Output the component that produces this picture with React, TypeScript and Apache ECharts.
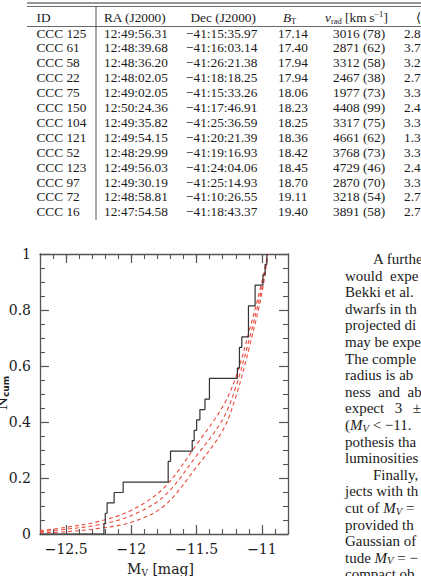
import React, { useEffect, useRef } from "react";
import * as echarts from "echarts";

// ---- Table of compact objects ----
const ids = ["CCC 125", "CCC 61", "CCC 58", "CCC 22", "CCC 75", "CCC 150", "CCC 104", "CCC 121", "CCC 52", "CCC 123", "CCC 97", "CCC 72", "CCC 16"];
const raJ2000 = ["12:49:56.31", "12:48:39.68", "12:48:36.20", "12:48:02.05", "12:49:02.05", "12:50:24.36", "12:49:35.82", "12:49:54.15", "12:48:29.99", "12:49:56.03", "12:49:30.19", "12:48:58.81", "12:47:54.58"];
const decJ2000 = ["\u221241:15:35.97", "\u221241:16:03.14", "\u221241:26:21.38", "\u221241:18:18.25", "\u221241:15:33.26", "\u221241:17:46.91", "\u221241:25:36.59", "\u221241:20:21.39", "\u221241:19:16.93", "\u221241:24:04.06", "\u221241:25:14.93", "\u221241:10:26.55", "\u221241:18:43.37"];
const bT = ["17.14", "17.40", "17.94", "17.94", "18.06", "18.23", "18.25", "18.36", "18.42", "18.45", "18.70", "19.11", "19.40"];
const vRad = ["3016 (78)", "2871 (62)", "3312 (58)", "2467 (38)", "1977 (73)", "4408 (99)", "3317 (75)", "4661 (62)", "3768 (73)", "4729 (46)", "2870 (70)", "3218 (54)", "3891 (58)"];
const lastCol = ["2.8", "3.7", "3.2", "2.7", "3.3", "2.4", "3.3", "1.3", "3.3", "2.4", "3.3", "2.7", "2.7"];

// ---- Cumulative luminosity distribution ----
// absolute magnitudes of the observed objects, brightest first
const objectMv = [
  -12.21, -12.2, -12.186, -12.132, -12.063,
  -11.718, -11.718, -11.7,
  -11.534, -11.519, -11.5, -11.475, -11.436, -11.402, -11.402,
  -11.188, -11.172, -11.172, -11.154,
  -11.103, -11.103, -11.103, -11.052, -11.052,
  -10.992, -10.975, -10.962,
];
// model curves (cumulative Gaussian tails)
const modelMv = [-12.7, -12.5, -12.25, -12.0, -11.75, -11.5, -11.3, -11.2, -11.1, -11.0, -10.955];
const modelHigh = [0.012, 0.024, 0.045, 0.085, 0.165, 0.32, 0.455, 0.56, 0.72, 0.9, 1.0];
const modelMid = [0.008, 0.017, 0.033, 0.066, 0.135, 0.28, 0.41, 0.525, 0.69, 0.88, 1.0];
const modelLow = [0.004, 0.008, 0.02, 0.042, 0.1, 0.24, 0.37, 0.49, 0.66, 0.86, 1.0];

const xMajor = [-12.5, -12, -11.5, -11];
const xMin = -12.7;
const xMax = -10.8;

// ---- running text beside the figure (justified column, clipped at the page edge) ----
const bodyLines = [
  "A furthe",
  "would\u2002expe",
  "Bekki et al.",
  "dwarfs in th",
  "projected di",
  "may be expe",
  "The comple",
  "radius is ab",
  "ness\u2002and\u2002ab",
  "expect\u2002\u20093\u2002\u2009\u00b1",
  "({i|M}{s|V} < \u221211.",
  "pothesis tha",
  "luminosities",
  "Finally,",
  "jects with th",
  "cut of {i|M}{s|V} =",
  "provided th",
  "Gaussian of",
  "tude {i|M}{s|V} = \u2212",
  "compact ob",
];
const indented = [0, 13];

const SERIF = '"Liberation Serif", "Times New Roman", serif';
const PLOTFONT = '"DejaVu Serif", serif';
const INK = "#1a1a1a";
const AXIS = "#555555";
const TABLE_SIZE = 13.3;
const BODY_SIZE = 15;

const bodyRich = {
  i: { fontFamily: SERIF, fontSize: BODY_SIZE, fontStyle: "italic", fill: INK, lineHeight: 17 },
  s: { fontFamily: SERIF, fontSize: 10.5, fontStyle: "italic", fill: INK, lineHeight: 10, verticalAlign: "bottom" },
};

function textEl(text: string, x: number, y: number, extra: any = {}) {
  return {
    type: "text",
    x,
    y,
    silent: true,
    style: {
      text,
      font: `${TABLE_SIZE}px ${SERIF}`,
      fill: INK,
      align: "left",
      textAlign: "left",
      verticalAlign: "middle",
      textVerticalAlign: "middle",
      ...extra,
    },
  };
}

function buildGraphic() {
  const els: any[] = [];
  // rules of the table
  els.push({ type: "line", shape: { x1: 27, y1: 3, x2: 421, y2: 3 }, style: { stroke: "#333", lineWidth: 1.2 } });
  els.push({ type: "line", shape: { x1: 27, y1: 6.5, x2: 421, y2: 6.5 }, style: { stroke: "#444", lineWidth: 0.8 } });
  els.push({ type: "line", shape: { x1: 27, y1: 26.5, x2: 421, y2: 26.5 }, style: { stroke: "#444", lineWidth: 0.8 } });
  els.push({ type: "line", shape: { x1: 96, y1: 6.5, x2: 96, y2: 220 }, style: { stroke: "#444", lineWidth: 0.9 } });

  // header
  const headY = 17;
  els.push(textEl("ID", 36.5, headY));
  els.push(textEl("RA (J2000)", 104, headY));
  els.push(textEl("Dec (J2000)", 190.5, headY));
  els.push(
    textEl("{i|B}{s|T}", 283, headY, {
      rich: {
        i: { fontFamily: SERIF, fontSize: TABLE_SIZE, fontStyle: "italic", fill: INK, lineHeight: 16 },
        s: { fontFamily: SERIF, fontSize: 8.5, fill: INK, lineHeight: 9, verticalAlign: "bottom" },
      },
    })
  );
  els.push(
    textEl("{i|v}{s|rad}{n| [km\u2009s}{p|\u22121}{n|]}", 325, headY, {
      rich: {
        i: { fontFamily: SERIF, fontSize: TABLE_SIZE, fontStyle: "italic", fill: INK, lineHeight: 16 },
        s: { fontFamily: SERIF, fontSize: 8.5, fill: INK, lineHeight: 9, verticalAlign: "bottom" },
        n: { fontFamily: SERIF, fontSize: TABLE_SIZE, fill: INK, lineHeight: 16 },
        p: { fontFamily: SERIF, fontSize: 8.5, fill: INK, lineHeight: 9, verticalAlign: "top" },
      },
    })
  );
  els.push(textEl("\u27e8", 416, headY));

  ids.forEach((id, i) => {
    const y = 33 + 14.9 * i;
    els.push(textEl(id, 36.5, y));
    els.push(textEl(raJ2000[i], 104, y));
    els.push(textEl(decJ2000[i], 186, y));
    els.push(textEl(bT[i], 278, y));
    els.push(textEl(vRad[i], 333, y));
    els.push(textEl(lastCol[i], 404, y));
  });

  // paragraph beside the plot
  bodyLines.forEach((line, k) => {
    const x = indented.includes(k) ? 373 : 345;
    els.push(textEl(line, x, 259 + 16.6 * k, { font: `${BODY_SIZE}px ${SERIF}`, rich: bodyRich }));
  });

  // axis titles
  els.push({
    type: "text",
    x: 160.5,
    y: 569,
    silent: true,
    style: {
      text: "{m|M}{s|V}{n| [mag]}",
      align: "center",
      textAlign: "center",
      verticalAlign: "middle",
      textVerticalAlign: "middle",
      rich: {
        m: { fontFamily: PLOTFONT, fontSize: 14, fill: INK, lineHeight: 16 },
        s: { fontFamily: PLOTFONT, fontSize: 9, fill: INK, lineHeight: 9, verticalAlign: "bottom" },
        n: { fontFamily: PLOTFONT, fontSize: 14, fill: INK, lineHeight: 16 },
      },
    },
  });
  els.push({
    type: "text",
    x: 1.5,
    y: 393,
    rotation: Math.PI / 2,
    silent: true,
    style: {
      text: "{n|N}{s|cum}",
      align: "center",
      textAlign: "center",
      verticalAlign: "middle",
      textVerticalAlign: "middle",
      rich: {
        n: { fontFamily: PLOTFONT, fontSize: 15, fill: INK, lineHeight: 17 },
        s: { fontFamily: '"DejaVu Sans", sans-serif', fontSize: 9, fontWeight: "bold", fill: INK, lineHeight: 9, verticalAlign: "bottom" },
      },
    },
  });
  return els;
}

const minus = (v: number) => String(v).replace("-", "\u2212");

function xAxisDef(position: "top" | "bottom", major: boolean) {
  return {
    type: "value",
    position,
    min: xMin,
    max: xMax,
    ...(major ? {} : { interval: 0.1 }),
    splitLine: { show: false },
    axisLine: { show: major, onZero: false, lineStyle: { color: AXIS, width: 1.3 } },
    axisTick: major
      ? { show: true, inside: true, length: 9, customValues: xMajor, lineStyle: { color: AXIS, width: 1.2 } }
      : { show: true, inside: true, length: 5, lineStyle: { color: AXIS, width: 1.1 } },
    axisLabel:
      major && position === "bottom"
        ? { show: true, customValues: xMajor, formatter: (v: number) => minus(v), margin: 8, color: INK, fontFamily: PLOTFONT, fontSize: 14 }
        : { show: false },
  };
}

function yAxisDef(position: "left" | "right") {
  return {
    type: "value",
    position,
    min: 0,
    max: 1,
    interval: 0.2,
    splitLine: { show: false },
    axisLine: { show: true, onZero: false, lineStyle: { color: AXIS, width: 1.3 } },
    axisTick: { show: true, inside: true, length: 9, lineStyle: { color: AXIS, width: 1.2 } },
    minorTick: { show: true, splitNumber: 4, length: 5, lineStyle: { color: AXIS, width: 1.1 } },
    axisLabel:
      position === "left"
        ? {
            show: true,
            margin: 9,
            color: INK,
            fontFamily: PLOTFONT,
            fontSize: 14,
            formatter: (v: number) => (v === 0 ? "0" : v === 1 ? "1" : v.toFixed(1)),
          }
        : { show: false },
  };
}

export default function App() {
  const ref = useRef<HTMLDivElement>(null);
  useEffect(() => {
    document.body.style.margin = "0";
    const chart = echarts.init(ref.current!, null, { renderer: "svg" });
    const n = objectMv.length;
    const cumulative = [[xMin, 0], ...objectMv.map((m, i) => [m, (i + 1) / n])];
    const dashed = (vals: number[]) => ({
      type: "line",
      xAxisIndex: 0,
      yAxisIndex: 0,
      data: modelMv.map((m, i) => [m, vals[i]]),
      smooth: 0.35,
      symbol: "none",
      lineStyle: { color: "#ea4b3c", width: 1.1, type: [4, 3] },
      z: 3,
    });
    chart.setOption({
      animation: false,
      backgroundColor: "#ffffff",
      grid: { left: 40, right: 133, top: 254, bottom: 42, containLabel: false },
      xAxis: [xAxisDef("bottom", true), xAxisDef("bottom", false), xAxisDef("top", true), xAxisDef("top", false)],
      yAxis: [yAxisDef("left"), yAxisDef("right")],
      series: [
        dashed(modelHigh),
        dashed(modelMid),
        dashed(modelLow),
        {
          type: "line",
          xAxisIndex: 0,
          yAxisIndex: 0,
          data: cumulative,
          step: "end",
          symbol: "none",
          lineStyle: { color: "#333333", width: 1.2 },
          z: 4,
        },
      ],
      graphic: buildGraphic(),
    });
    return () => chart.dispose();
  }, []);
  return <div ref={ref} style={{ position: "absolute", left: 0, top: 0, width: 421, height: 576, background: "#fff" }} />;
}
